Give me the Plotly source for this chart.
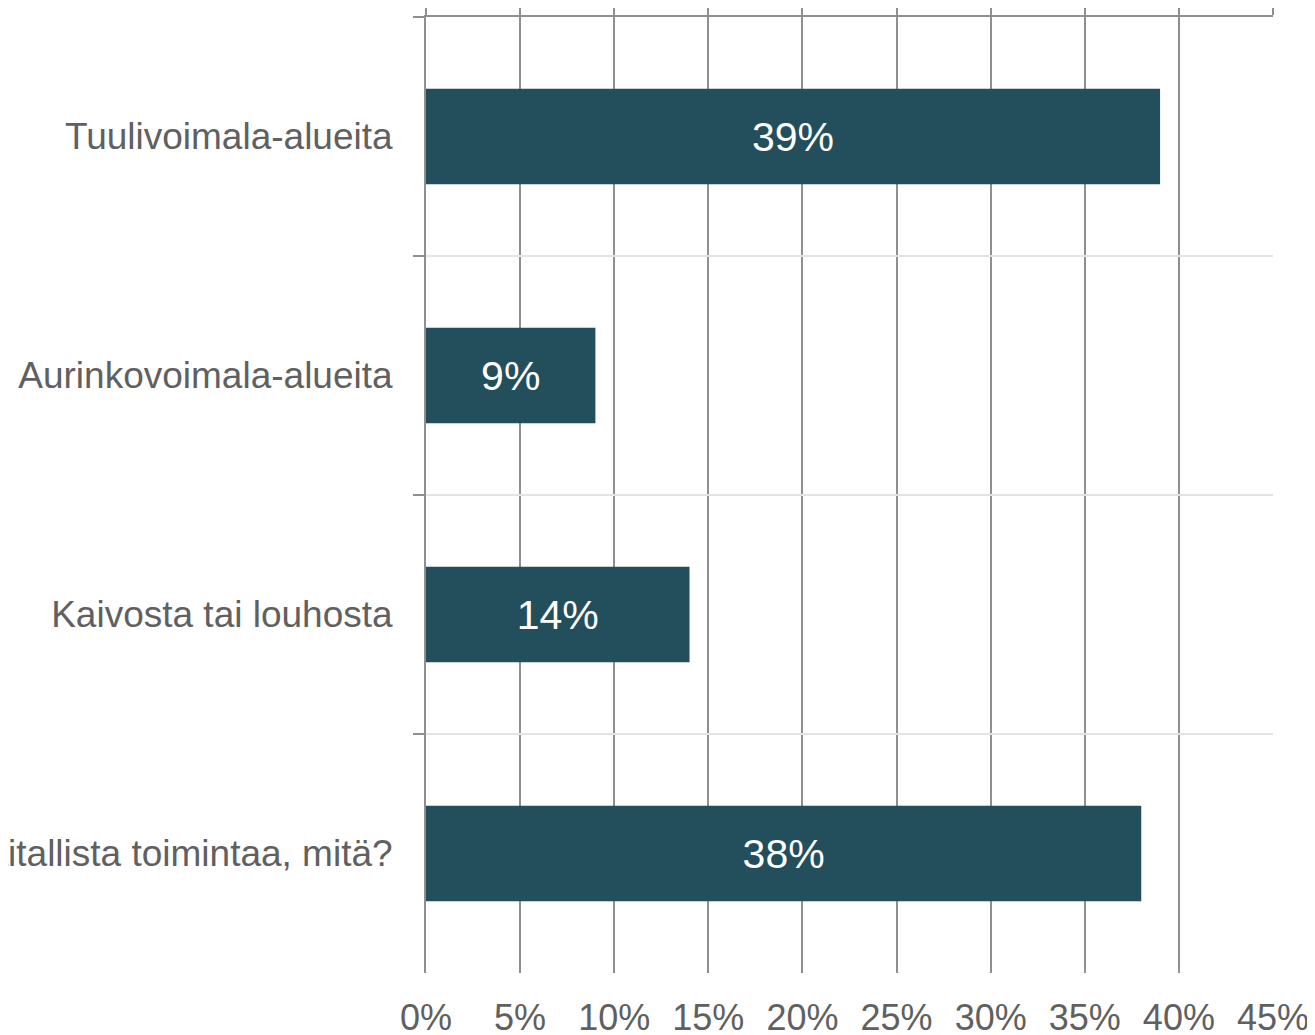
import plotly.graph_objects as go

categories = [
    "Tuulivoimala-alueita",
    "Aurinkovoimala-alueita",
    "Kaivosta tai louhosta",
    "Muuta vastaavaa laajamittaista laitallista toimintaa, mitä?",
]
values = [39, 9, 14, 38]
x_ticks = [0, 5, 10, 15, 20, 25, 30, 35, 40, 45]

BAR = "#234E5B"
GRID_DARK = "#8f8f8f"
GRID_LIGHT = "#e4e4e4"
TEXT = "#606060"
FONT = "Liberation Sans, Arial, sans-serif"

fig = go.Figure()
fig.add_trace(go.Bar(
    x=values,
    y=categories,
    orientation="h",
    marker=dict(color=BAR, line=dict(width=0)),
    text=[f"{v}%" for v in values],
    textposition="inside",
    insidetextanchor="middle",
    textfont=dict(color="white", size=41, family=FONT),
    constraintext="none",
    hoverinfo="skip",
))
# invisible trace to anchor the top axis
fig.add_trace(go.Scatter(x=[0], y=[categories[0]], xaxis="x2", mode="markers",
                         marker=dict(opacity=0), hoverinfo="skip", showlegend=False))

fig.update_layout(
    width=1307, height=1027,
    margin=dict(l=418, r=42, t=9, b=62, autoexpand=False),
    paper_bgcolor="white", plot_bgcolor="white",
    bargap=0.6,
    showlegend=False,
    font=dict(family=FONT, color=TEXT),
    xaxis=dict(
        range=[0, 45], tickvals=x_ticks, ticktext=[f"{t}%" for t in x_ticks],
        showgrid=True, gridcolor=GRID_DARK, gridwidth=2,
        zeroline=False, showline=False, ticks="",
        tickfont=dict(size=36, color=TEXT, family=FONT),
        ticklabelstandoff=20, automargin=False,
    ),
    xaxis2=dict(
        range=[0, 45], tickvals=x_ticks, overlaying="x", side="top",
        showticklabels=False, ticks="outside", ticklen=11, tickwidth=2,
        tickcolor=GRID_DARK, showline=True, linecolor=GRID_DARK, linewidth=2,
        showgrid=False, zeroline=False, automargin=False,
    ),
    yaxis=dict(
        type="category", categoryorder="array", categoryarray=categories,
        autorange="reversed", tickson="boundaries",
        ticks="outside", ticklen=11, tickwidth=2, tickcolor=GRID_DARK,
        showgrid=True, gridcolor=GRID_LIGHT, gridwidth=2,
        showline=True, linecolor=GRID_DARK, linewidth=2,
        tickfont=dict(size=37, color=TEXT, family=FONT),
        ticklabelstandoff=24, automargin=False,
    ),
)

fig.write_html("out.html")
